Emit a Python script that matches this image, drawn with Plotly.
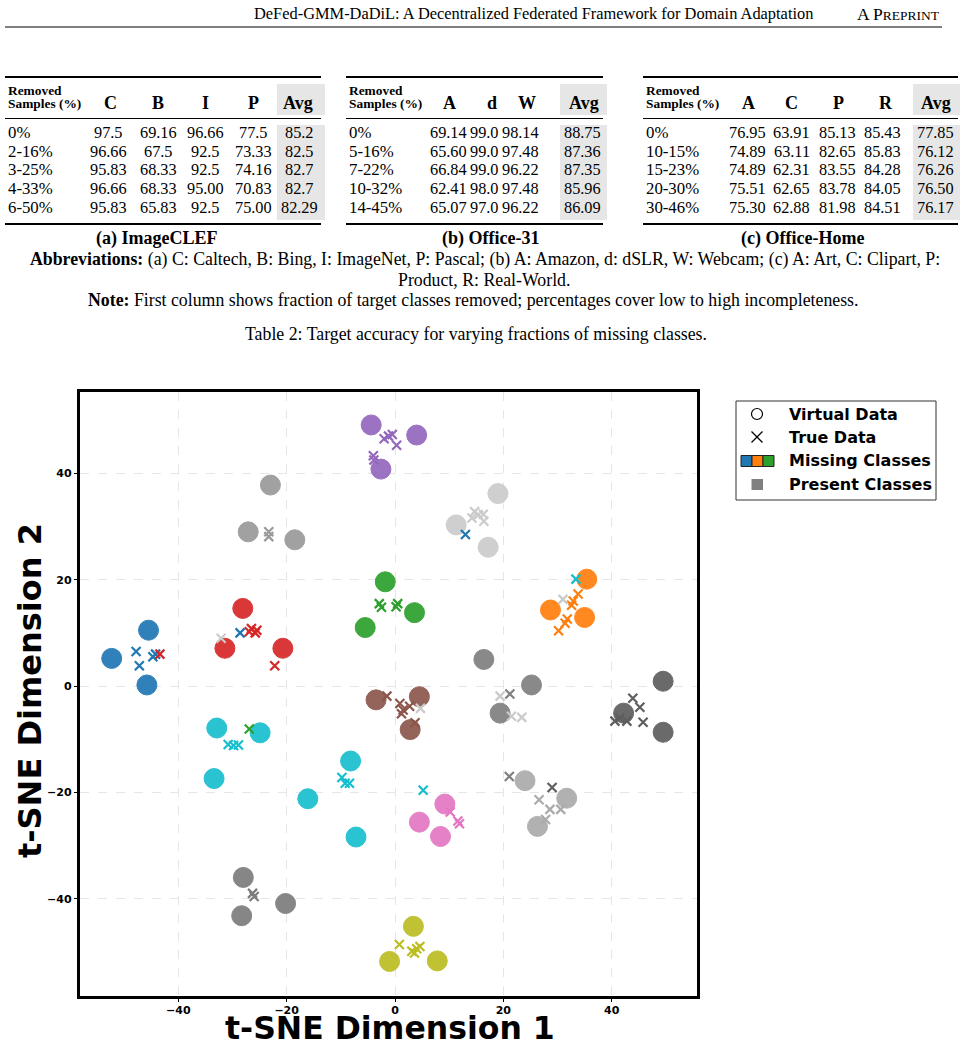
import plotly.graph_objects as go

W, H = 967, 1049

# ---------------- data: tables ----------------
clef_cols = ["C", "B", "I", "P", "Avg"]
clef_rows = ["0%", "2-16%", "3-25%", "4-33%", "6-50%"]
clef_vals = [["97.5", "69.16", "96.66", "77.5", "85.2"],
             ["96.66", "67.5", "92.5", "73.33", "82.5"],
             ["95.83", "68.33", "92.5", "74.16", "82.7"],
             ["96.66", "68.33", "95.00", "70.83", "82.7"],
             ["95.83", "65.83", "92.5", "75.00", "82.29"]]

o31_cols = ["A", "d", "W", "Avg"]
o31_rows = ["0%", "5-16%", "7-22%", "10-32%", "14-45%"]
o31_vals = [["69.14", "99.0", "98.14", "88.75"],
            ["65.60", "99.0", "97.48", "87.36"],
            ["66.84", "99.0", "96.22", "87.35"],
            ["62.41", "98.0", "97.48", "85.96"],
            ["65.07", "97.0", "96.22", "86.09"]]

oh_cols = ["A", "C", "P", "R", "Avg"]
oh_rows = ["0%", "10-15%", "15-23%", "20-30%", "30-46%"]
oh_vals = [["76.95", "63.91", "85.13", "85.43", "77.85"],
           ["74.89", "63.11", "82.65", "85.83", "76.12"],
           ["74.89", "62.31", "83.55", "84.28", "76.26"],
           ["75.51", "62.65", "83.78", "84.05", "76.50"],
           ["75.30", "62.88", "81.98", "84.51", "76.17"]]

# ---------------- data: t-SNE scatter ----------------
class_names = ["blue", "orange", "green", "red", "purple", "brown", "pink", "olive", "cyan",
               "gray_a", "gray_b", "gray_c", "gray_d", "gray_e", "gray_f"]

virtual_x = [-52.3, -45.5, -45.8,
             35.4, 28.7, 35.0,
             -1.8, -5.5, 3.6,
             -28.1, -31.4, -20.7,
             -4.4, -2.6, 4.0,
             -3.5, 4.5, 2.8,
             9.2, 4.5, 8.4,
             3.4, -1.0, 7.8,
             -32.9, -24.9, -33.4, -8.2, -16.1, -7.2,
             -23.0, -27.1, -18.5,
             19.0, 11.3, 17.2,
             16.4, 25.2, 19.4,
             42.2, 49.5, 49.5,
             24.0, 31.7, 26.3,
             -28.0, -28.3, -20.2]
virtual_y = [5.2, 10.5, 0.2,
             20.1, 14.3, 12.9,
             19.6, 11.0, 13.8,
             14.6, 7.1, 7.1,
             49.1, 40.8, 47.2,
             -2.6, -2.0, -8.2,
             -22.2, -25.6, -28.3,
             -45.2, -51.8, -51.7,
             -7.9, -8.8, -17.4, -14.1, -21.2, -28.4,
             37.8, 29.0, 27.5,
             36.2, 30.3, 26.1,
             5.0, 0.2, -5.1,
             -5.1, -8.7, 0.9,
             -17.8, -21.1, -26.4,
             -36.0, -43.2, -40.9]
virtual_cls = ["blue"] * 3 + ["orange"] * 3 + ["green"] * 3 + ["red"] * 3 + ["purple"] * 3 + \
              ["brown"] * 3 + ["pink"] * 3 + ["olive"] * 3 + ["cyan"] * 6 + \
              ["gray_a"] * 3 + ["gray_b"] * 3 + ["gray_c"] * 3 + ["gray_d"] * 3 + \
              ["gray_e"] * 3 + ["gray_f"] * 3

true_x = [-47.8, -47.2, -44.7, -44.2, -28.6, 13.0,
          -43.4, -26.5, -25.8, -26.9, -25.5, -22.2,
          -1.2, -2.0, -0.5, 0.3, -4.0, -3.9,
          -2.9, -2.5, 0.2, 0.5, -26.9,
          32.6, 33.8, 32.9, 31.4, 31.8, 30.2,
          33.4, -29.8, -30.8, -28.9, -9.2, -9.8, -8.4, 5.2,
          -1.5, 0.9, 1.5, 1.2, 2.7, 3.7,
          10.2, 11.9, 11.6,
          0.8, 3.1, 4.0, 4.6, 3.6,
          -23.3, -23.3,
          15.4, 14.7, 16.3, 16.4, 14.2, 31.0, -32.1, 4.7, 19.4, 21.5, 23.4,
          21.2, 21.1,
          43.9, 45.2, 45.8, 40.6, 42.8, 41.5, 29.0,
          26.6, 28.6, 30.6, 27.8,
          -26.0, -26.3]
true_y = [6.5, 3.8, 5.5, 6.0, 10.0, 28.5,
          6.0, 10.8, 10.0, 10.2, 10.5, 3.8,
          47.0, 46.5, 47.3, 45.3, 43.3, 42.5,
          15.5, 14.8, 14.9, 15.5, -8.1,
          15.2, 17.3, 16.0, 11.8, 12.6, 10.4,
          20.1, -11.2, -11.0, -11.1, -18.3, -17.2, -18.3, -19.6,
          -1.9, -3.3, -4.5, -5.2, -3.8, -6.9,
          -23.7, -25.9, -25.4,
          -48.6, -49.9, -49.4, -49.0, -50.2,
          29.0, 28.1,
          32.2, 32.8, 32.3, 31.0, 31.6, 16.3, 9.0, -4.2, -1.9, -5.7, -5.9,
          -1.5, -17.0,
          -2.3, -4.0, -6.8, -6.6, -6.6, -6.0, -19.1,
          -21.4, -23.2, -23.2, -25.1,
          -39.6, -39.0]
true_cls = ["blue"] * 6 + ["red"] * 6 + ["purple"] * 6 + ["green"] * 5 + ["orange"] * 6 + \
           ["cyan"] * 8 + ["brown"] * 6 + ["pink"] * 3 + ["olive"] * 5 + ["gray_a"] * 2 + \
           ["gray_b"] * 11 + ["gray_c"] * 2 + ["gray_d"] * 7 + ["gray_e"] * 4 + ["gray_f"] * 2

# ---------------- styles ----------------
colors = {"blue": "#1f77b4", "orange": "#ff7f0e", "green": "#2ca02c", "red": "#d62728",
          "purple": "#9467bd", "brown": "#8c564b", "pink": "#e377c2", "olive": "#bcbd22",
          "cyan": "#17becf", "gray_a": "#9a9a9a", "gray_b": "#cbcbcb", "gray_c": "#808080",
          "gray_d": "#5e5e5e", "gray_e": "#ababab", "gray_f": "#7c7c7c"}

SERIF = "Liberation Serif"
SANS = "DejaVu Sans"

fig = go.Figure()

for c in class_names:
    xs = [x for x, k in zip(virtual_x, virtual_cls) if k == c]
    ys = [y for y, k in zip(virtual_y, virtual_cls) if k == c]
    fig.add_trace(go.Scatter(x=xs, y=ys, mode="markers", showlegend=False, hoverinfo="skip",
                             marker=dict(symbol="circle", size=20, color=colors[c], opacity=0.92,
                                         line=dict(width=1, color=colors[c]))))
for c in class_names:
    xs = [x for x, k in zip(true_x, true_cls) if k == c]
    ys = [y for y, k in zip(true_y, true_cls) if k == c]
    fig.add_trace(go.Scatter(x=xs, y=ys, mode="markers", showlegend=False, hoverinfo="skip",
                             marker=dict(symbol="x-thin", size=9, color=colors[c],
                                         line=dict(width=2.2, color=colors[c]))))


def X(px):
    return px / W


def Y(py):
    return 1 - py / H


ann = []
shp = []


def txt(x, y, s, size, xanchor="center", family=SERIF, bold=False, angle=0, yanchor="middle"):
    ann.append(dict(x=X(x), y=Y(y), xref="paper", yref="paper", text=(f"<b>{s}</b>" if bold else s),
                    showarrow=False, xanchor=xanchor, yanchor=yanchor, textangle=angle,
                    font=dict(family=family, size=size, color="black")))


def hline(x0, x1, y, w):
    shp.append(dict(type="line", xref="paper", yref="paper", x0=X(x0), x1=X(x1), y0=Y(y), y1=Y(y),
                    line=dict(color="black", width=w)))


def rect(x0, x1, y0, y1, fill, lw=0, lc="black"):
    shp.append(dict(type="rect", xref="paper", yref="paper", x0=X(x0), x1=X(x1), y0=Y(y0), y1=Y(y1),
                    fillcolor=fill, line=dict(color=lc, width=lw), layer="below" if lw == 0 else "above"))


# header
txt(815, 14, "DeFed-GMM-DaDiL: A Decentralized Federated Framework for Domain Adaptation", 16.4, xanchor="right")
txt(942, 14, "A P<span style='font-size:13.5px'>REPRINT</span>", 17.5, xanchor="right")
hline(5, 942, 27, 1.2)

row_y = [132, 151, 169.5, 188.5, 207]


def table(xl, xr, shade, hdr_x, dat_x, cols, rows, vals, caption, cap_x):
    rect(shade[0], shade[1], 84, 115, "#e6e6e6")
    rect(shade[0], shade[1], 125, 220, "#e6e6e6")
    hline(xl, xr, 77, 1.8)
    hline(xl, xr, 118.5, 1.0)
    hline(xl, xr, 224, 1.8)
    txt(xl + 1, 90, "Removed", 13.4, xanchor="left", bold=True)
    txt(xl + 1, 104, "Samples (%)", 13.4, xanchor="left", bold=True)
    for cx, cn in zip(hdr_x, cols):
        txt(cx, 103, cn, 18, bold=True)
    for ry, rn, rv in zip(row_y, rows, vals):
        txt(xl + 1, ry, rn, 16.8, xanchor="left")
        for cx, v in zip(dat_x, rv):
            txt(cx, ry, v, 16.3)
    txt(cap_x, 238, caption, 18, bold=True)


table(5, 321, (277, 325), [110.7, 158.3, 205.7, 253.7, 298], [108.5, 158.5, 205, 253, 299.5],
      clef_cols, clef_rows, clef_vals, "(a) ImageCLEF", 156)
table(346, 603, (560, 607), [449.7, 492.3, 526.7, 583.7], [448.3, 484.5, 520, 582],
      o31_cols, o31_rows, o31_vals, "(b) Office-31", 490)
table(643, 958, (913, 960), [748.7, 791.7, 838.7, 885.7, 935.5], [747.5, 791.7, 837.5, 882.5, 935],
      oh_cols, oh_rows, oh_vals, "(c) Office-Home", 802)

BODY = 17.8
txt(485, 259, "<b>Abbreviations:</b> (a) C: Caltech, B: Bing, I: ImageNet, P: Pascal; (b) A: Amazon, d: dSLR, "
              "W: Webcam; (c) A: Art, C: Clipart, P:", BODY)
txt(484, 280, "Product, R: Real-World.", BODY)
txt(473, 300, "<b>Note:</b> First column shows fraction of target classes removed; percentages cover low to "
              "high incompleteness.", BODY)
txt(476, 334, "Table 2: Target accuracy for varying fractions of missing classes.", BODY)

# legend (custom)
rect(736, 936, 401, 500, "white", lw=1, lc="#333333")
shp.append(dict(type="circle", xref="paper", yref="paper", x0=X(751.5), x1=X(762.5), y0=Y(408.5), y1=Y(419.5),
                line=dict(color="black", width=1.2)))
shp.append(dict(type="line", xref="paper", yref="paper", x0=X(751.5), x1=X(762.5), y0=Y(431.5), y1=Y(442.5),
                line=dict(color="black", width=1.2)))
shp.append(dict(type="line", xref="paper", yref="paper", x0=X(751.5), x1=X(762.5), y0=Y(442.5), y1=Y(431.5),
                line=dict(color="black", width=1.2)))
for i, c in enumerate(["blue", "orange", "green"]):
    rect(741 + 11 * i, 752 + 11 * i, 455.5, 466.5, colors[c], lw=1, lc="#222222")
rect(751.5, 763, 479, 490, "#808080", lw=0.01, lc="#808080")
for yy, s in zip([414, 437.5, 461, 484.5], ["Virtual Data", "True Data", "Missing Classes", "Present Classes"]):
    txt(787, yy, s, 16, xanchor="left", family=SANS, bold=True)

# axis titles
txt(390, 1048, "t-SNE Dimension 1", 31.5, family=SANS, bold=True, yanchor="bottom")
txt(30, 691, "t-SNE Dimension 2", 32, family=SANS, bold=True, angle=-90)

axis_common = dict(showline=True, linecolor="black", linewidth=2.5, mirror=True,
                   ticks="outside", ticklen=3.5, tickwidth=1, tickcolor="black",
                   showgrid=True, gridcolor="#e6e6e6", griddash="dash", gridwidth=0.9,
                   zeroline=False, dtick=20,
                   tickfont=dict(family=SANS, size=11, color="black", weight="bold"))

fig.update_layout(
    width=W, height=H,
    margin=dict(l=0, r=0, t=0, b=0, autoexpand=False),
    paper_bgcolor="white", plot_bgcolor="white",
    xaxis=dict(domain=[X(80), X(697)], range=[-58.15, 55.75], tick0=0, ticklabelstandoff=-1,
               **axis_common),
    yaxis=dict(domain=[Y(996), Y(392)], range=[-58.3, 55.3], tick0=0, **axis_common),
    annotations=ann, shapes=shp,
)

fig.write_html("out.html")
